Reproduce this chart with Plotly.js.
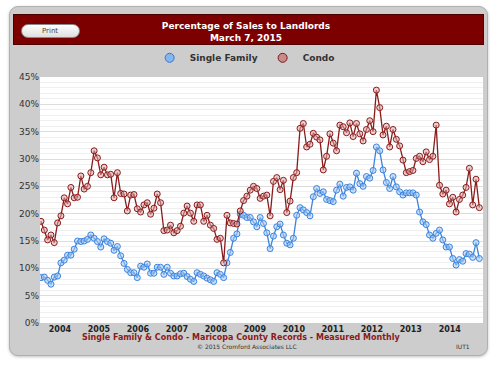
<!DOCTYPE html>
<html>
<head>
<meta charset="utf-8">
<script src="https://cdn.plot.ly/plotly-3.0.1.min.js"></script>
<style>
  html, body { margin: 0; padding: 0; background: #ffffff; }
  #wrap { position: relative; width: 500px; height: 365px; overflow: hidden; }
  #panel { position: absolute; left: 9px; top: 6px; width: 477px; height: 348px;
           background: #cdcdcd; border: 1px solid #b0b0b0; border-radius: 9px;
           box-shadow: 0 1px 3px rgba(0,0,0,0.25); }
  #header { position: absolute; left: 13px; top: 14px; width: 469px; height: 29px;
            background: #7d0000; border: 1px solid #4e0000; }
  #btn { position: absolute; left: 21px; top: 24px; width: 57px; height: 12px;
         border-radius: 7px; border: 1px solid #8a8a8a;
         background: linear-gradient(#ffffff, #dedede); }
  #chart { position: absolute; left: 0; top: 0; width: 500px; height: 365px; }
</style>
</head>
<body>
<div id="wrap">
  <div id="panel"></div>
  <div id="header"></div>
  <div id="btn"></div>
  <div id="chart"></div>
</div>
<script>
// ---- Data (monthly, starting January 2004) ----
const startYear = 2004;
const yearLabels = ['2004','2005','2006','2007','2008','2009','2010','2011','2012','2013','2014'];

const singleFamily = [
  8.3, 8.4, 7.8, 7.1, 8.4, 8.6, 11.0, 11.5, 12.4, 12.4, 13.5, 15.0,
  14.9, 15.0, 15.3, 16.1, 15.5, 14.9, 13.9, 15.4, 14.9, 14.6, 13.3, 14.0,
  12.3, 10.9, 9.8, 9.2, 9.2, 8.3, 10.4, 10.2, 10.8, 9.1, 9.1, 10.2,
  10.2, 8.9, 10.2, 9.1, 8.6, 8.6, 9.0, 9.1, 8.5, 8.0, 7.6, 9.2,
  8.9, 8.6, 8.2, 7.9, 7.6, 9.2, 8.9, 8.3, 11.0, 12.9, 15.5, 16.3,
  19.9, 19.7, 19.3, 19.3, 18.5, 17.6, 19.3, 18.2, 16.5, 13.6, 15.9, 17.6,
  18.1, 16.1, 14.6, 14.3, 15.5, 19.7, 21.1, 20.7, 20.2, 19.6, 23.1, 24.6,
  23.7, 24.0, 22.6, 22.4, 22.2, 24.3, 25.4, 23.2, 24.8, 24.9, 24.3, 27.4,
  25.5, 25.0, 26.8, 26.5, 27.9, 32.2, 31.5, 28.0, 25.7, 24.6, 26.8, 24.9,
  24.0, 23.4, 23.8, 23.8, 23.8, 23.4, 20.3, 18.5, 18.0, 16.1, 15.5, 16.4,
  17.0, 15.2, 13.9, 13.9, 11.8, 10.6, 11.6, 11.3, 12.7, 12.6, 12.0, 14.7,
  11.8
];

const condo = [
  18.6, 17.0, 15.2, 16.1, 14.7, 18.3, 19.6, 22.9, 21.8, 24.8, 22.9, 23.0,
  26.9, 24.5, 25.0, 27.5, 31.5, 30.2, 27.1, 28.5, 27.1, 27.2, 22.9, 27.5,
  23.7, 23.6, 20.5, 23.4, 23.5, 20.9, 20.3, 21.6, 22.0, 19.9, 21.0, 23.6,
  22.0, 16.9, 17.0, 17.9, 16.5, 16.9, 17.7, 20.1, 21.4, 20.1, 18.6, 21.6,
  21.6, 18.6, 19.7, 17.9, 17.3, 15.3, 15.5, 11.0, 19.7, 18.3, 18.2, 18.1,
  20.5, 22.4, 23.2, 24.3, 25.0, 24.6, 22.8, 23.2, 23.4, 19.6, 25.9, 26.6,
  24.4, 26.1, 20.2, 22.3, 26.6, 27.5, 35.6, 36.5, 32.2, 32.7, 34.7, 34.0,
  33.5, 28.0, 30.5, 34.6, 32.9, 31.5, 36.2, 35.9, 34.8, 36.6, 34.1, 36.5,
  34.6, 33.3, 35.4, 37.0, 35.0, 42.6, 39.4, 34.4, 36.0, 32.2, 35.4, 33.6,
  32.4, 29.8, 27.5, 27.7, 27.9, 30.1, 30.5, 29.5, 31.3, 29.9, 30.5, 36.2,
  25.2, 23.6, 24.3, 21.8, 23.0, 20.3, 22.6, 23.4, 24.8, 28.3, 21.6, 26.3,
  21.1
];

// month index axis + readable month labels for hover
const monthIdx = singleFamily.map((_, i) => i);
const monthNames = ['Jan','Feb','Mar','Apr','May','Jun','Jul','Aug','Sep','Oct','Nov','Dec'];
const monthText = monthIdx.map(i => monthNames[i % 12] + ' ' + (startYear + Math.floor(i / 12)));

const FONT = 'DejaVu Sans, Verdana, sans-serif';
const sfLine = '#3a84de', sfFill = 'rgba(165,200,244,0.55)';
const cdLine = '#8a1b1b', cdFill = 'rgba(222,168,168,0.55)';

const traces = [
  { x: monthIdx, y: singleFamily, text: monthText, name: 'Single Family', type: 'scatter',
    mode: 'lines+markers', showlegend: false,
    line: { color: sfLine, width: 1.3 },
    marker: { size: 6, color: sfFill, line: { color: sfLine, width: 1 } },
    hovertemplate: '%{text}: %{y:.1f}%<extra>Single Family</extra>' },
  { x: monthIdx, y: condo, text: monthText, name: 'Condo', type: 'scatter',
    mode: 'lines+markers', showlegend: false,
    line: { color: cdLine, width: 1.3 },
    marker: { size: 6, color: cdFill, line: { color: cdLine, width: 1 } },
    hovertemplate: '%{text}: %{y:.1f}%<extra>Condo</extra>' },
  // legend entries (marker-only symbols, as in the original)
  { x: [null], y: [null], name: 'Single Family', type: 'scatter', mode: 'markers',
    marker: { size: 9, color: '#86b6ee', line: { color: '#3a78c8', width: 1 } } },
  { x: [null], y: [null], name: 'Condo', type: 'scatter', mode: 'markers',
    marker: { size: 9, color: '#c98a8a', line: { color: '#7a1a1a', width: 1 } } }
];

// year labels sit roughly mid-year along the month axis
const tickStart = 5.7, tickStep = 11.74;
const tickVals = yearLabels.map((_, k) => tickStart + k * tickStep);

const layout = {
  width: 500, height: 365,
  margin: { l: 40, r: 17, t: 77, b: 42 },
  paper_bgcolor: 'rgba(0,0,0,0)',
  plot_bgcolor: '#ffffff',
  font: { family: FONT, color: '#333333' },
  title: {
    text: 'Percentage of Sales to Landlords<br>March 7, 2015',
    font: { family: FONT, size: 9, color: '#ffffff', weight: 'bold' },
    xref: 'container', yref: 'container', x: 0.492, xanchor: 'center',
    y: 1 - 29 / 365, yanchor: 'middle'
  },
  showlegend: true,
  legend: {
    orientation: 'h', x: 0.462, xanchor: 'center', y: 1.078, yanchor: 'middle',
    font: { family: FONT, size: 9, color: '#333333', weight: 'bold' },
    bgcolor: 'rgba(0,0,0,0)', itemclick: false, itemdoubleclick: false,
    itemwidth: 30, tracegroupgap: 0
  },
  xaxis: {
    range: [-0.3, 133.1], tickvals: tickVals, ticktext: yearLabels,
    showgrid: false, zeroline: false, showline: false, ticks: '',
    tickfont: { family: FONT, size: 8, color: '#222222', weight: 'bold' },
    fixedrange: true
  },
  yaxis: {
    range: [0, 45], dtick: 5, ticksuffix: '%',
    showgrid: true, gridcolor: '#dddddd', gridwidth: 1,
    minor: { dtick: 1, showgrid: true, gridcolor: '#efefef', gridwidth: 1 },
    zeroline: false, showline: false, ticks: '',
    tickfont: { family: FONT, size: 9, color: '#333333' },
    fixedrange: true
  },
  annotations: [
    { text: 'Print', xref: 'paper', yref: 'paper', x: (50 - 40) / 443, y: (323 - 30.5) / 246,
      xanchor: 'center', yanchor: 'middle',
      showarrow: false, font: { family: FONT, size: 7, color: '#444444' } },
    { text: '<b>Single Family & Condo - Maricopa County Records - Measured Monthly</b>',
      xref: 'paper', yref: 'paper', x: (240.5 - 40) / 443, y: (323 - 337.5) / 246,
      xanchor: 'center', yanchor: 'middle',
      showarrow: false, font: { family: FONT, size: 8, color: '#8b1a1a' } },
    { text: '© 2015 Cromford Associates LLC', xref: 'paper', yref: 'paper',
      x: (246.5 - 40) / 443, y: (323 - 346.5) / 246, xanchor: 'center', yanchor: 'middle',
      showarrow: false, font: { family: FONT, size: 6, color: '#333333' } },
    { text: 'IUT1', xref: 'paper', yref: 'paper', x: (462.5 - 40) / 443, y: (323 - 346.5) / 246,
      xanchor: 'center', yanchor: 'middle',
      showarrow: false, font: { family: FONT, size: 6, color: '#333333' } }
  ]
};

Plotly.newPlot('chart', traces, layout, { displayModeBar: false, staticPlot: false });
</script>
</body>
</html>
